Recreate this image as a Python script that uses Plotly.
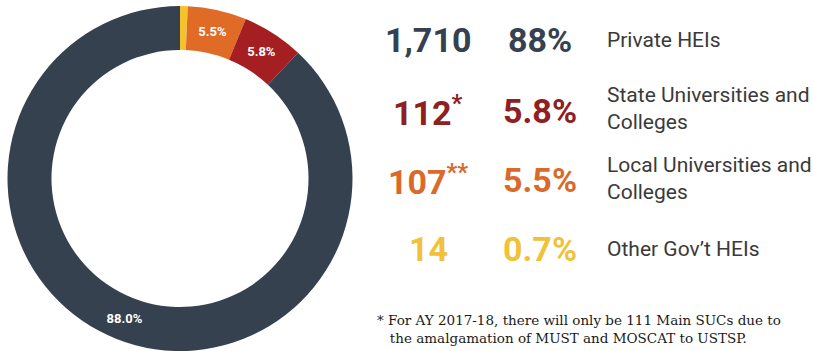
import plotly.graph_objects as go

# Data
categories = ["Other Gov’t HEIs", "Local Universities and<br>Colleges",
              "State Universities and<br>Colleges", "Private HEIs"]
counts = [14, 107, 112, 1710]
count_labels = ["14", "107<sup>**</sup>", "112<sup>*</sup>", "1,710"]
pct_labels = ["0.7%", "5.5%", "5.8%", "88%"]
slice_colors = ["#f4c22c", "#df6b27", "#a41e22", "#36414f"]
text_colors = ["#f0c23a", "#d96a2c", "#8e2021", "#36414f"]
row_y_px = [249, 180, 111, 40]
label_y_px = [249, 178, 108, 40]
footnote = ("* For AY 2017-18, there will only be 111 Main SUCs due to<br>"
            "   the amalgamation of MUST and MOSCAT to USTSP.")

W, H = 813, 351

fig = go.Figure()
fig.add_trace(go.Pie(
    labels=categories,
    values=counts,
    sort=False,
    direction="clockwise",
    rotation=0,
    hole=0.745,
    marker=dict(colors=slice_colors, line=dict(width=0)),
    texttemplate=["", "%{percent:.1%}", "%{percent:.1%}", "%{percent:.1%}"],
    textposition="inside",
    insidetextorientation="horizontal",
    textfont=dict(family="Roboto", size=13, color="white", weight="bold"),
    hoverinfo="label+value+percent",
    domain=dict(x=[7 / W, 353 / W], y=[0, 345 / H]),
    showlegend=False,
))

for i in range(len(categories)):
    fig.add_annotation(x=428 / W, y=1 - row_y_px[i] / H, xref="paper", yref="paper",
                       text="<b>%s</b>" % count_labels[i], showarrow=False,
                       xanchor="center", yanchor="middle",
                       font=dict(family="Roboto", size=34, color=text_colors[i]))
    fig.add_annotation(x=540 / W, y=1 - row_y_px[i] / H, xref="paper", yref="paper",
                       text="<b>%s</b>" % pct_labels[i], showarrow=False,
                       xanchor="center", yanchor="middle",
                       font=dict(family="Roboto", size=34, color=text_colors[i]))
    fig.add_annotation(x=605 / W, y=1 - label_y_px[i] / H, xref="paper", yref="paper",
                       text=categories[i], showarrow=False, align="left",
                       xanchor="left", yanchor="middle",
                       font=dict(family="Roboto", size=21, color="#3a3a3a"))

fig.add_annotation(x=375 / W, y=1 - 329 / H, xref="paper", yref="paper",
                   text=footnote, showarrow=False, align="left",
                   xanchor="left", yanchor="middle",
                   font=dict(family="DejaVu Serif", size=13.5, color="#1a1a1a"))

fig.update_layout(
    width=W, height=H,
    margin=dict(l=0, r=0, t=0, b=0),
    paper_bgcolor="white", plot_bgcolor="white",
)

fig.write_html("out.html")
